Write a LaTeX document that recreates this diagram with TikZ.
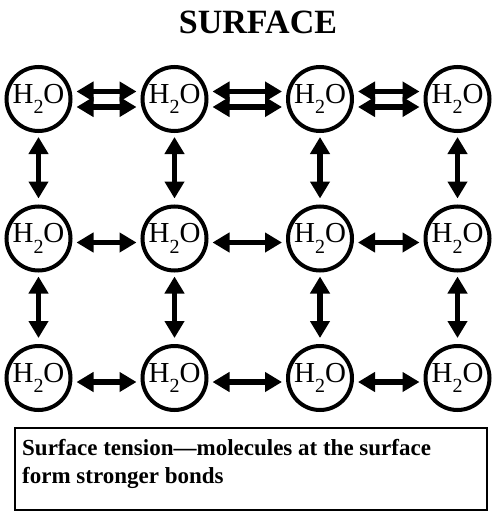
\documentclass[tikz,border=0pt]{standalone}
\usepackage{fontspec}
\setmainfont{Liberation Serif}
\usetikzlibrary{arrows.meta}
\newcommand{\water}{H\raisebox{-0.36em}{\fontsize{20}{20}\selectfont 2}O}
\begin{document}
\begin{tikzpicture}[x=1pt,y=-1pt,
  mol/.style={circle,draw,line width=4pt,minimum size=64pt,inner sep=0pt,
    font=\fontsize{29}{29}\selectfont},
  arr/.style={line width=5.5pt,
    {Triangle[length=17pt,width=19pt]}-{Triangle[length=17pt,width=19pt]},
    shorten <=4pt,shorten >=4pt}]
\useasboundingbox (0,0) rectangle (499,516);
\node[font=\bfseries\fontsize{34}{34}\selectfont,anchor=base] (title) at (258,34) {SURFACE};
% molecules
\foreach \r/\yy in {1/99,2/238.5,3/378}{
  \foreach \c/\xx in {1/38.5,2/174.5,3/320,4/457.5}{
    \node[mol] (m\r\c) at (\xx,\yy) {\water};
  }
}
% bonds
\foreach \a/\b in {1/2,2/3,3/4}{
  \draw[arr] ([yshift=7.5pt]m1\a.east) -- ([yshift=7.5pt]m1\b.west);
  \draw[arr] ([yshift=-8pt]m1\a.east) -- ([yshift=-8pt]m1\b.west);
  \draw[arr] ([yshift=-4pt]m2\a.east) -- ([yshift=-4pt]m2\b.west);
  \draw[arr] ([yshift=-4pt]m3\a.east) -- ([yshift=-4pt]m3\b.west);
}
\foreach \c in {1,2,3,4}{
  \draw[arr,shorten >=6pt] (m1\c.south) -- (m2\c.north);
  \draw[arr,shorten >=6pt] (m2\c.south) -- (m3\c.north);
}
% caption box
\draw[line width=1.5pt] (15,428) rectangle (487,510);
\node[anchor=north west,inner sep=0pt,align=left,
  font=\bfseries\fontsize{23}{28}\selectfont] (cap) at (22,439)
  {Surface tension\textemdash molecules at the surface\\form stronger bonds};
\end{tikzpicture}
\end{document}
